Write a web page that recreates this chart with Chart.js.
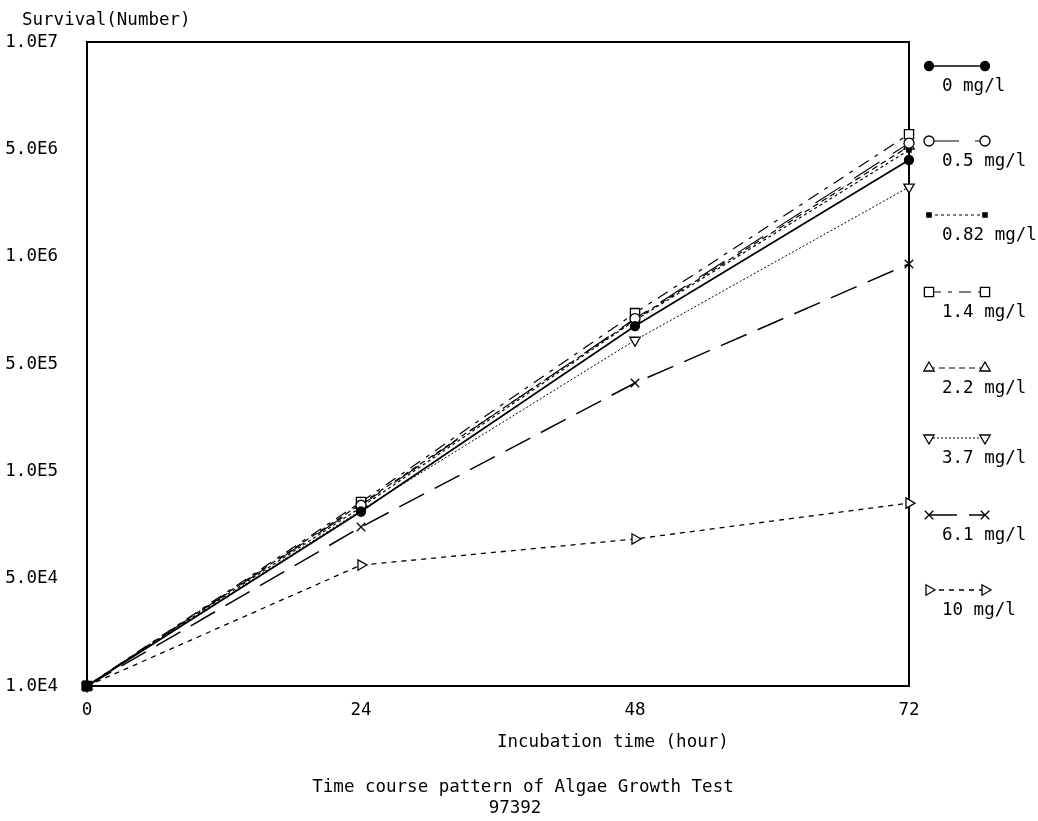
<!DOCTYPE html>
<html>
<head>
<meta charset="utf-8">
<script src="https://cdn.jsdelivr.net/npm/chart.js@4.4.1/dist/chart.umd.min.js"></script>
<style>
  html, body { margin: 0; padding: 0; background: #fff; }
  canvas { display: block; }
</style>
</head>
<body>
<canvas id="algaeChart" width="1038" height="821"></canvas>
<script>
// hours of incubation
const HOURS = [0, 24, 48, 72];

// cell counts per concentration
const conc0 = [1.0e4, 6.5e4, 4.75e5, 2.82e6];
const conc05 = [1.0e4, 6.95e4, 5.15e5, 3.38e6];
const conc082 = [1.0e4, 6.8e4, 5.05e5, 3.14e6];
const conc14 = [1.0e4, 7.2e4, 5.46e5, 3.72e6];
const conc22 = [1.0e4, 7.05e4, 5.1e5, 3.27e6];
const conc37 = [1.0e4, 6.6e4, 4.08e5, 2.11e6];
const conc61 = [1.0e4, 5.5e4, 2.58e5, 9.25e5];
const conc10 = [1.0e4, 3.66e4, 4.84e4, 7.11e4];

const SERIES_LABELS = ['0 mg/l', '0.5 mg/l', '0.82 mg/l', '1.4 mg/l', '2.2 mg/l', '3.7 mg/l', '6.1 mg/l', '10 mg/l'];

// y axis ticks sit every half decade, labelled like the original software does
const Y_TICK_VALUES = [1e4, 3.1623e4, 1e5, 3.1623e5, 1e6, 3.1623e6, 1e7];
const Y_TICK_LABELS = ['1.0E4', '5.0E4', '1.0E5', '5.0E5', '1.0E6', '5.0E6', '1.0E7'];
const X_TICK_VALUES = [0, 24, 48, 72];

const FONT_FAMILY = '"DejaVu Sans Mono", "Liberation Mono", monospace';
const FONT_SIZE = 17.5;
const FONT = FONT_SIZE + 'px ' + FONT_FAMILY;

// legend rows on the right (y of the marker line)
const LEGEND_Y = [66, 141, 215, 292, 368, 438, 515, 590];

function toPoints(values) {
    return HOURS.map((h, i) => ({ x: h, y: values[i] }));
}

const STYLES = [
    { data: conc0, pointStyle: 'circle', radius: 4.5, fill: 'black', dash: [], width: 1.7 },
    { data: conc05, pointStyle: 'circle', radius: 5, fill: 'white', dash: [30, 16], width: 1.1 },
    { data: conc082, pointStyle: 'rect', radius: 3, fill: 'black', dash: [3, 3], width: 1.2 },
    { data: conc14, pointStyle: 'rect', radius: 6.5, fill: 'white', dash: [12, 7, 4, 7], width: 1.2 },
    { data: conc22, pointStyle: 'triangle', radius: 6, fill: 'white', dash: [6, 4], width: 1.2 },
    { data: conc37, pointStyle: 'triangle', rotation: 180, radius: 6, fill: 'white', dash: [2, 2], width: 1 },
    { data: conc61, pointStyle: 'crossRot', radius: 6, fill: 'white', dash: [28, 12], width: 1.5 },
    { data: conc10, pointStyle: 'triangle', rotation: 90, radius: 6, fill: 'white', dash: [5, 5], width: 1.3 }
];

const datasets = STYLES.map((s, i) => ({
    label: SERIES_LABELS[i],
    data: toPoints(s.data),
    borderColor: 'black',
    borderWidth: s.width,
    borderDash: s.dash,
    pointStyle: s.pointStyle,
    pointRotation: s.rotation || 0,
    pointRadius: s.radius,
    pointHoverRadius: s.radius,
    pointBorderWidth: 1.3,
    pointBorderColor: 'black',
    pointBackgroundColor: s.fill,
    tension: 0,
    fill: false,
    clip: false
}));

// frame, side legend and the loose texts
const decorPlugin = {
    id: 'decor',
    beforeDatasetsDraw(chart) {
        const { ctx, chartArea } = chart;
        ctx.save();
        ctx.strokeStyle = 'black';
        ctx.lineWidth = 2;
        ctx.strokeRect(chartArea.left, chartArea.top, chartArea.right - chartArea.left, chartArea.bottom - chartArea.top);
        ctx.restore();
    },
    afterDraw(chart) {
        const ctx = chart.ctx;
        ctx.save();
        ctx.font = FONT;
        ctx.fillStyle = 'black';
        ctx.textBaseline = 'middle';

        ctx.textAlign = 'left';
        ctx.fillText('Survival(Number)', 22, 20);
        ctx.fillText('Incubation time (hour)', 497, 742);

        ctx.textAlign = 'center';
        ctx.fillText('Time course pattern of Algae Growth Test', 523, 787);
        ctx.fillText('97392', 515, 808);

        chart.data.datasets.forEach((ds, i) => {
            const y = LEGEND_Y[i];
            ctx.strokeStyle = 'black';
            ctx.lineWidth = ds.borderWidth;
            ctx.setLineDash(ds.borderDash);
            ctx.beginPath();
            ctx.moveTo(929, y);
            ctx.lineTo(985, y);
            ctx.stroke();
            ctx.setLineDash([]);

            [929, 985].forEach((x) => {
                ctx.fillStyle = ds.pointBackgroundColor;
                ctx.strokeStyle = 'black';
                ctx.lineWidth = 1.3;
                Chart.helpers.drawPoint(ctx, {
                    pointStyle: ds.pointStyle,
                    rotation: ds.pointRotation,
                    radius: ds.pointRadius,
                    borderWidth: 1.3
                }, x, y);
            });

            ctx.fillStyle = 'black';
            ctx.textAlign = 'left';
            ctx.fillText(ds.label, 942, y + 20);
        });
        ctx.restore();
    }
};

new Chart('algaeChart', {
    type: 'line',
    data: { datasets: datasets },
    options: {
        responsive: false,
        animation: false,
        layout: {
            padding: { left: 0, top: 42, right: 129, bottom: 0 }
        },
        plugins: {
            legend: { display: false },
            tooltip: { enabled: false }
        },
        scales: {
            x: {
                type: 'linear',
                min: 0,
                max: 72,
                grid: { display: false, drawTicks: false },
                border: { display: false },
                afterBuildTicks: (scale) => {
                    scale.ticks = X_TICK_VALUES.map((v) => ({ value: v }));
                },
                afterFit: (scale) => {
                    scale.height = 135;
                },
                ticks: {
                    padding: 14,
                    color: 'black',
                    autoSkip: false,
                    maxRotation: 0,
                    font: { family: FONT_FAMILY, size: FONT_SIZE }
                }
            },
            y: {
                type: 'logarithmic',
                min: 1e4,
                max: 1e7,
                grid: { display: false, drawTicks: false },
                border: { display: false },
                afterBuildTicks: (scale) => {
                    scale.ticks = Y_TICK_VALUES.map((v) => ({ value: v }));
                },
                afterFit: (scale) => {
                    scale.width = 87;
                },
                ticks: {
                    padding: 29,
                    color: 'black',
                    autoSkip: false,
                    font: { family: FONT_FAMILY, size: FONT_SIZE },
                    callback: (value, index) => Y_TICK_LABELS[index]
                }
            }
        }
    },
    plugins: [decorPlugin]
});
</script>
</body>
</html>
